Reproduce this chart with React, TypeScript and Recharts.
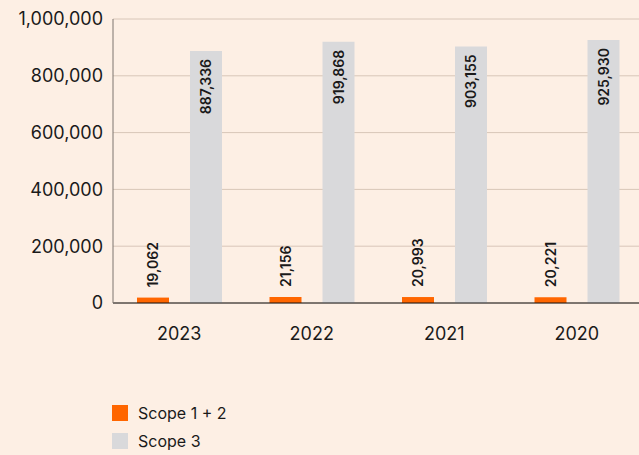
import React from "react"
import {
  BarChart,
  Bar,
  XAxis,
  YAxis,
  CartesianGrid,
  LabelList,
} from "recharts"

const years = ["2023", "2022", "2021", "2020"]
const scope12 = [19062, 21156, 20993, 20221]
const scope3 = [887336, 919868, 903155, 925930]
const yTicks = [0, 200000, 400000, 600000, 800000, 1000000]

const series = [
  { key: "scope12", name: "Scope 1 + 2", color: "#FF6600" },
  { key: "scope3", name: "Scope 3", color: "#D9D9DB" },
]

const data = years.map((year, i) => ({
  year,
  scope12: scope12[i],
  scope3: scope3[i],
}))

const FONT = "Inter, 'Noto Sans', sans-serif"
const fmt = (v: number) => v.toLocaleString("en-US")

// label above the small bars, reading upward
const OutsideLabel = (props: any) => {
  const { x, y, width, value } = props
  const cx = x + width / 2
  const cy = y - 10
  return (
    <text
      x={cx}
      y={cy}
      transform={`rotate(-90 ${cx} ${cy})`}
      textAnchor="start"
      dominantBaseline="central"
      fontSize={14}
      fontWeight={600}
      fill="#1a1a1a"
      fontFamily={FONT}
    >
      {fmt(value)}
    </text>
  )
}

// label inside the top of the tall bars
const InsideLabel = (props: any) => {
  const { x, y, width, value } = props
  const cx = x + width / 2
  const cy = y + 8
  return (
    <text
      x={cx}
      y={cy}
      transform={`rotate(-90 ${cx} ${cy})`}
      textAnchor="end"
      dominantBaseline="central"
      fontSize={14}
      fontWeight={600}
      fill="#1a1a1a"
      fontFamily={FONT}
    >
      {fmt(value)}
    </text>
  )
}

export default function App() {
  return (
    <div
      style={{
        position: "absolute",
        left: 0,
        top: 0,
        width: 639,
        height: 455,
        background: "#FDEFE4",
        overflow: "hidden",
      }}
    >
      <BarChart
        width={643}
        height={455}
        data={data}
        margin={{ top: 19, right: 0, left: 0, bottom: 112 }}
        barGap={21}
        barSize={32}
      >
        <CartesianGrid vertical={false} stroke="#D8C6B8" />
        <XAxis
          dataKey="year"
          axisLine={{ stroke: "#111" }}
          tickLine={false}
          tickMargin={18}
          height={40}
          tick={{ fontSize: 18, fill: "#1a1a1a", fontFamily: FONT }}
        />
        <YAxis
          width={113}
          domain={[0, 1000000]}
          ticks={yTicks}
          interval={0}
          axisLine={{ stroke: "#7d756e" }}
          tickLine={false}
          tickMargin={4}
          tickFormatter={fmt}
          tick={{ fontSize: 18, fill: "#1a1a1a", fontFamily: FONT }}
        />
        <Bar
          dataKey="scope12"
          name="Scope 1 + 2"
          fill="#FF6600"
          isAnimationActive={false}
        >
          <LabelList dataKey="scope12" content={<OutsideLabel />} />
        </Bar>
        <Bar
          dataKey="scope3"
          name="Scope 3"
          fill="#D9D9DB"
          isAnimationActive={false}
        >
          <LabelList dataKey="scope3" content={<InsideLabel />} />
        </Bar>
      </BarChart>
      <div
        style={{
          position: "absolute",
          left: 112,
          top: 405,
          fontFamily: FONT,
          fontSize: 16,
          color: "#1a1a1a",
        }}
      >
        {series.map((s) => (
          <div
            key={s.key}
            style={{ display: "flex", alignItems: "center", height: 16, marginBottom: 12 }}
          >
            <span
              style={{
                width: 16,
                height: 16,
                background: s.color,
                display: "inline-block",
                marginRight: 10,
              }}
            />
            {s.name}
          </div>
        ))}
      </div>
    </div>
  )
}
